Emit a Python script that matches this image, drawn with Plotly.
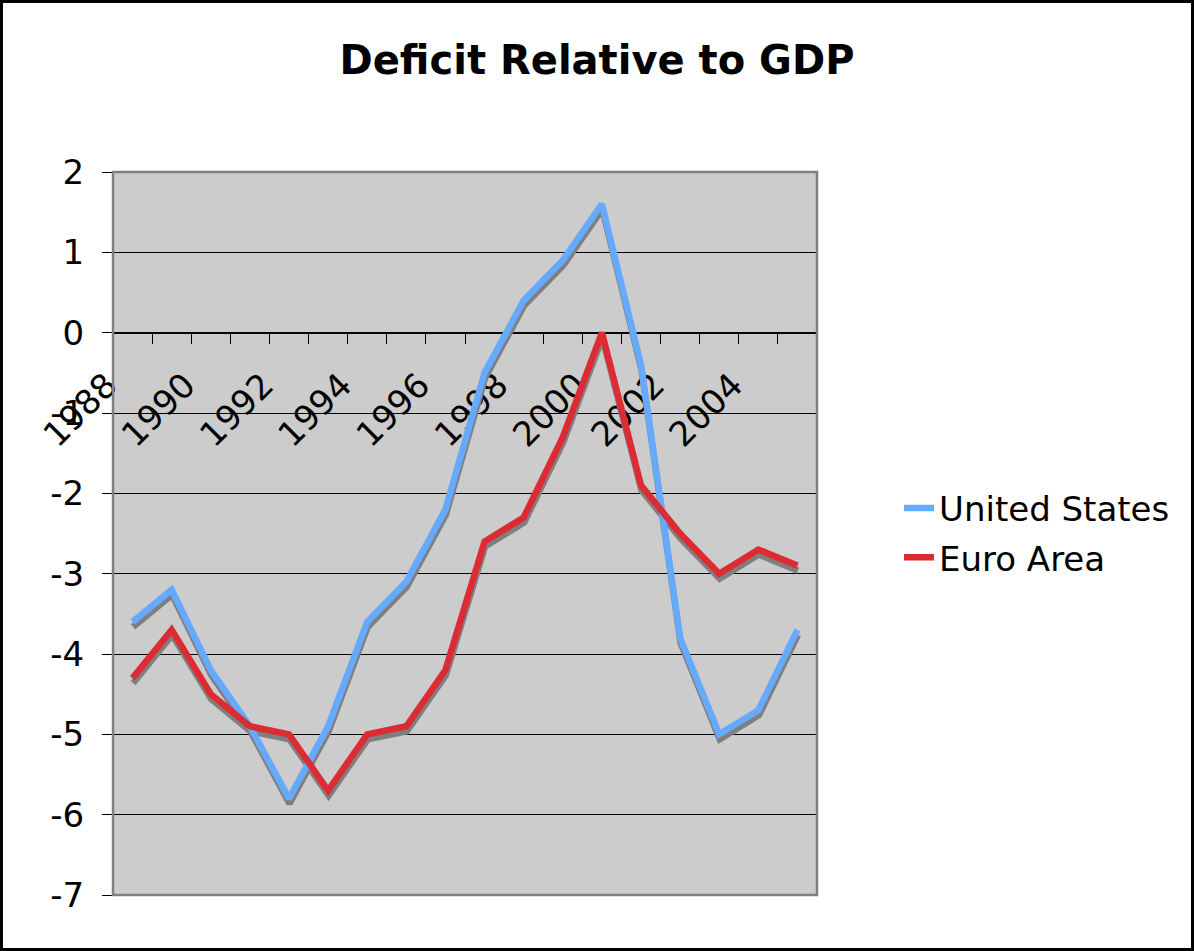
import plotly.graph_objects as go

years = list(range(1988, 2006))
us_deficit = [-3.6, -3.2, -4.2, -4.9, -5.8, -4.9, -3.6, -3.1, -2.2, -0.5, 0.4, 0.9, 1.6, -0.4, -3.8, -5.0, -4.7, -3.7]
euro_deficit = [-4.3, -3.7, -4.5, -4.9, -5.0, -5.7, -5.0, -4.9, -4.2, -2.6, -2.3, -1.3, 0.0, -1.9, -2.5, -3.0, -2.7, -2.9]
x_tick_labels = ["1988", "", "1990", "", "1992", "", "1994", "", "1996", "", "1998", "", "2000", "", "2002", "", "2004", "", ""]
y_tick_vals = [2, 1, 0, -1, -2, -3, -4, -5, -6, -7]
y_tick_labels = ["2", "1", "0", "-1", "-2", "-3", "-4", "-5", "-6", "-7"]

W, H = 1194, 951
L, R, T, B = 113, 377, 172, 56
PW, PH = W - L - R, H - T - B

X0, X1 = years[0] - 0.5, years[-1] + 0.5
Y0, Y1 = -7, 2
# shadow offset in pixels
SDX, SDY = 0.5, 5.0
sx = SDX * (X1 - X0) / PW
sy = SDY * (Y1 - Y0) / PH

US_COLOR = "#66AAFF"
EU_COLOR = "#DD2B33"
SHADOW = "#7F7F7F"
FONT = "DejaVu Sans"
LW = 6.5

fig = go.Figure()

# shadows on the base subplot (hidden axes, shifted by a few pixels)
for vals in (us_deficit, euro_deficit):
    fig.add_trace(go.Scatter(x=years, y=vals, mode="lines", xaxis="x", yaxis="y",
                             line=dict(color=SHADOW, width=LW), showlegend=False,
                             hoverinfo="skip"))

# main lines on the visible overlay axes
fig.add_trace(go.Scatter(x=years, y=us_deficit, mode="lines", name="United States",
                         xaxis="x2", yaxis="y2", legendgroup="us",
                         line=dict(color=US_COLOR, width=LW)))
fig.add_trace(go.Scatter(x=years, y=euro_deficit, mode="lines", name="Euro Area",
                         xaxis="x2", yaxis="y2", legendgroup="eu",
                         line=dict(color=EU_COLOR, width=LW)))

tick_bounds = [y - 0.5 for y in years] + [years[-1] + 0.5]

fig.update_layout(
    width=W, height=H,
    margin=dict(l=L, r=R, t=T, b=B, pad=0),
    paper_bgcolor="white",
    plot_bgcolor="#CCCCCC",
    font=dict(family=FONT, size=34, color="black"),
    title=dict(text="Deficit Relative to GDP", x=0.5, xref="container", xanchor="center",
               y=1 - 60 / H, yref="container", yanchor="middle",
               font=dict(family=FONT, size=40, color="black", weight="bold")),
    xaxis=dict(range=[X0 - sx, X1 - sx], domain=[0, 1], anchor="y", visible=False),
    yaxis=dict(range=[Y0 + sy, Y1 + sy], domain=[0, 1], anchor="x", visible=False),
    xaxis2=dict(range=[X0, X1], overlaying="x", anchor="free", position=7 / 9,
                tickmode="array", tickvals=tick_bounds, ticktext=x_tick_labels,
                tickangle=-45, ticks="outside", ticklen=10, tickwidth=1, tickcolor="black",
                showline=True, linecolor="black", linewidth=1, showgrid=False,
                zeroline=False, layer="below traces",
                ticklabelstandoff=8, ticklabelshift=-6,
                tickfont=dict(family=FONT, size=34, color="black")),
    yaxis2=dict(range=[Y0, Y1], overlaying="y", anchor="x2", side="left",
                tickmode="array", tickvals=y_tick_vals,
                ticktext=y_tick_labels, ticks="outside", ticklen=10, tickwidth=1,
                tickcolor="black", showgrid=True, gridcolor="black", gridwidth=1,
                zeroline=True, zerolinecolor="black", zerolinewidth=1,
                showline=False, ticklabelstandoff=11, layer="below traces",
                tickfont=dict(family=FONT, size=34, color="black")),
    legend=dict(x=(899 - L) / PW, xanchor="left", y=(H - B - 533) / PH, yanchor="middle",
                font=dict(family=FONT, size=34, color="black"), bgcolor="rgba(0,0,0,0)",
                tracegroupgap=2, itemwidth=30),
    showlegend=True,
    shapes=[
        dict(type="rect", xref="paper", yref="paper", x0=0, x1=1, y0=0, y1=1,
             line=dict(color="#808080", width=2.5), layer="above"),
        dict(type="rect", xref="paper", yref="paper",
             x0=(1.5 - L) / PW, x1=(W - 1.5 - L) / PW,
             y0=(H - B - (H - 1.5)) / PH, y1=(H - B - 1.5) / PH,
             line=dict(color="black", width=3), layer="above"),
    ],
)

fig.write_html("out.html", config={"displayModeBar": False},
               post_script="document.body.style.margin='0px';")
